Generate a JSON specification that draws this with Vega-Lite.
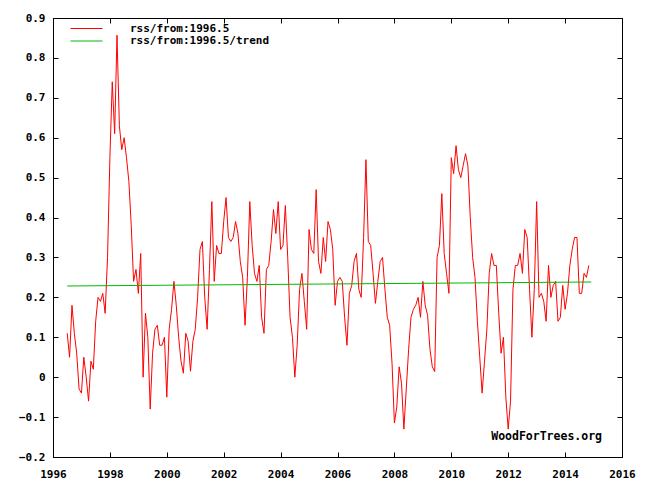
{
  "$schema": "https://vega.github.io/schema/vega-lite/v6.json",
  "width": 569,
  "height": 439,
  "autosize": {"type": "none"},
  "padding": {"left": 53, "top": 18, "right": 27, "bottom": 33},
  "background": "white",
  "datasets": {
    "rss": [
      {"t": 1996.5, "v": 0.11}, {"t": 1996.583, "v": 0.05}, {"t": 1996.667, "v": 0.18}, {"t": 1996.75, "v": 0.11}, {"t": 1996.833, "v": 0.06}, {"t": 1996.917, "v": -0.03},
      {"t": 1997.0, "v": -0.04}, {"t": 1997.083, "v": 0.05}, {"t": 1997.167, "v": 0.0}, {"t": 1997.25, "v": -0.06}, {"t": 1997.333, "v": 0.04}, {"t": 1997.417, "v": 0.02},
      {"t": 1997.5, "v": 0.14}, {"t": 1997.583, "v": 0.2}, {"t": 1997.667, "v": 0.19}, {"t": 1997.75, "v": 0.21}, {"t": 1997.833, "v": 0.16}, {"t": 1997.917, "v": 0.3},
      {"t": 1998.0, "v": 0.55}, {"t": 1998.083, "v": 0.74}, {"t": 1998.167, "v": 0.61}, {"t": 1998.25, "v": 0.857}, {"t": 1998.333, "v": 0.63}, {"t": 1998.417, "v": 0.57},
      {"t": 1998.5, "v": 0.6}, {"t": 1998.583, "v": 0.55}, {"t": 1998.667, "v": 0.49}, {"t": 1998.75, "v": 0.38}, {"t": 1998.833, "v": 0.24}, {"t": 1998.917, "v": 0.27},
      {"t": 1999.0, "v": 0.21}, {"t": 1999.083, "v": 0.31}, {"t": 1999.167, "v": 0.0}, {"t": 1999.25, "v": 0.16}, {"t": 1999.333, "v": 0.1}, {"t": 1999.417, "v": -0.08},
      {"t": 1999.5, "v": 0.06}, {"t": 1999.583, "v": 0.12}, {"t": 1999.667, "v": 0.13}, {"t": 1999.75, "v": 0.08}, {"t": 1999.833, "v": 0.08}, {"t": 1999.917, "v": 0.1},
      {"t": 2000.0, "v": -0.05}, {"t": 2000.083, "v": 0.12}, {"t": 2000.167, "v": 0.17}, {"t": 2000.25, "v": 0.24}, {"t": 2000.333, "v": 0.18}, {"t": 2000.417, "v": 0.1},
      {"t": 2000.5, "v": 0.04}, {"t": 2000.583, "v": 0.01}, {"t": 2000.667, "v": 0.11}, {"t": 2000.75, "v": 0.09}, {"t": 2000.833, "v": 0.015}, {"t": 2000.917, "v": 0.09},
      {"t": 2001.0, "v": 0.12}, {"t": 2001.083, "v": 0.2}, {"t": 2001.167, "v": 0.32}, {"t": 2001.25, "v": 0.34}, {"t": 2001.333, "v": 0.2}, {"t": 2001.417, "v": 0.12},
      {"t": 2001.5, "v": 0.27}, {"t": 2001.583, "v": 0.44}, {"t": 2001.667, "v": 0.24}, {"t": 2001.75, "v": 0.33}, {"t": 2001.833, "v": 0.31}, {"t": 2001.917, "v": 0.31},
      {"t": 2002.0, "v": 0.39}, {"t": 2002.083, "v": 0.45}, {"t": 2002.167, "v": 0.35}, {"t": 2002.25, "v": 0.34}, {"t": 2002.333, "v": 0.35}, {"t": 2002.417, "v": 0.39},
      {"t": 2002.5, "v": 0.36}, {"t": 2002.583, "v": 0.29}, {"t": 2002.667, "v": 0.25}, {"t": 2002.75, "v": 0.13}, {"t": 2002.833, "v": 0.25}, {"t": 2002.917, "v": 0.44},
      {"t": 2003.0, "v": 0.33}, {"t": 2003.083, "v": 0.26}, {"t": 2003.167, "v": 0.24}, {"t": 2003.25, "v": 0.28}, {"t": 2003.333, "v": 0.15}, {"t": 2003.417, "v": 0.11},
      {"t": 2003.5, "v": 0.27}, {"t": 2003.583, "v": 0.28}, {"t": 2003.667, "v": 0.34}, {"t": 2003.75, "v": 0.42}, {"t": 2003.833, "v": 0.36}, {"t": 2003.917, "v": 0.44},
      {"t": 2004.0, "v": 0.32}, {"t": 2004.083, "v": 0.33}, {"t": 2004.167, "v": 0.43}, {"t": 2004.25, "v": 0.3}, {"t": 2004.333, "v": 0.15}, {"t": 2004.417, "v": 0.1},
      {"t": 2004.5, "v": 0.0}, {"t": 2004.583, "v": 0.08}, {"t": 2004.667, "v": 0.22}, {"t": 2004.75, "v": 0.26}, {"t": 2004.833, "v": 0.19}, {"t": 2004.917, "v": 0.12},
      {"t": 2005.0, "v": 0.37}, {"t": 2005.083, "v": 0.32}, {"t": 2005.167, "v": 0.31}, {"t": 2005.25, "v": 0.47}, {"t": 2005.333, "v": 0.29}, {"t": 2005.417, "v": 0.26},
      {"t": 2005.5, "v": 0.35}, {"t": 2005.583, "v": 0.29}, {"t": 2005.667, "v": 0.39}, {"t": 2005.75, "v": 0.37}, {"t": 2005.833, "v": 0.32}, {"t": 2005.917, "v": 0.18},
      {"t": 2006.0, "v": 0.24}, {"t": 2006.083, "v": 0.25}, {"t": 2006.167, "v": 0.24}, {"t": 2006.25, "v": 0.15}, {"t": 2006.333, "v": 0.08}, {"t": 2006.417, "v": 0.21},
      {"t": 2006.5, "v": 0.23}, {"t": 2006.583, "v": 0.29}, {"t": 2006.667, "v": 0.31}, {"t": 2006.75, "v": 0.22}, {"t": 2006.833, "v": 0.2}, {"t": 2006.917, "v": 0.35},
      {"t": 2007.0, "v": 0.545}, {"t": 2007.083, "v": 0.34}, {"t": 2007.167, "v": 0.33}, {"t": 2007.25, "v": 0.26}, {"t": 2007.333, "v": 0.185}, {"t": 2007.417, "v": 0.24},
      {"t": 2007.5, "v": 0.29}, {"t": 2007.583, "v": 0.3}, {"t": 2007.667, "v": 0.22}, {"t": 2007.75, "v": 0.15}, {"t": 2007.833, "v": 0.13}, {"t": 2007.917, "v": 0.035},
      {"t": 2008.0, "v": -0.115}, {"t": 2008.083, "v": -0.075}, {"t": 2008.167, "v": 0.026}, {"t": 2008.25, "v": -0.015}, {"t": 2008.333, "v": -0.13}, {"t": 2008.417, "v": -0.03},
      {"t": 2008.5, "v": 0.07}, {"t": 2008.583, "v": 0.15}, {"t": 2008.667, "v": 0.17}, {"t": 2008.75, "v": 0.18}, {"t": 2008.833, "v": 0.2}, {"t": 2008.917, "v": 0.15},
      {"t": 2009.0, "v": 0.24}, {"t": 2009.083, "v": 0.18}, {"t": 2009.167, "v": 0.155}, {"t": 2009.25, "v": 0.07}, {"t": 2009.333, "v": 0.026}, {"t": 2009.417, "v": 0.014},
      {"t": 2009.5, "v": 0.3}, {"t": 2009.583, "v": 0.33}, {"t": 2009.667, "v": 0.46}, {"t": 2009.75, "v": 0.31}, {"t": 2009.833, "v": 0.26}, {"t": 2009.917, "v": 0.21},
      {"t": 2010.0, "v": 0.55}, {"t": 2010.083, "v": 0.51}, {"t": 2010.167, "v": 0.58}, {"t": 2010.25, "v": 0.52}, {"t": 2010.333, "v": 0.5}, {"t": 2010.417, "v": 0.53},
      {"t": 2010.5, "v": 0.56}, {"t": 2010.583, "v": 0.53}, {"t": 2010.667, "v": 0.4}, {"t": 2010.75, "v": 0.3}, {"t": 2010.833, "v": 0.25}, {"t": 2010.917, "v": 0.14},
      {"t": 2011.0, "v": 0.05}, {"t": 2011.083, "v": -0.04}, {"t": 2011.167, "v": 0.04}, {"t": 2011.25, "v": 0.12}, {"t": 2011.333, "v": 0.26}, {"t": 2011.417, "v": 0.31},
      {"t": 2011.5, "v": 0.28}, {"t": 2011.583, "v": 0.28}, {"t": 2011.667, "v": 0.16}, {"t": 2011.75, "v": 0.06}, {"t": 2011.833, "v": 0.1}, {"t": 2011.917, "v": -0.05},
      {"t": 2012.0, "v": -0.13}, {"t": 2012.083, "v": -0.06}, {"t": 2012.167, "v": 0.22}, {"t": 2012.25, "v": 0.28}, {"t": 2012.333, "v": 0.28}, {"t": 2012.417, "v": 0.31},
      {"t": 2012.5, "v": 0.26}, {"t": 2012.583, "v": 0.37}, {"t": 2012.667, "v": 0.35}, {"t": 2012.75, "v": 0.22}, {"t": 2012.833, "v": 0.1}, {"t": 2012.917, "v": 0.22},
      {"t": 2013.0, "v": 0.44}, {"t": 2013.083, "v": 0.2}, {"t": 2013.167, "v": 0.21}, {"t": 2013.25, "v": 0.19}, {"t": 2013.333, "v": 0.14}, {"t": 2013.417, "v": 0.28},
      {"t": 2013.5, "v": 0.2}, {"t": 2013.583, "v": 0.23}, {"t": 2013.667, "v": 0.24}, {"t": 2013.75, "v": 0.14}, {"t": 2013.833, "v": 0.15}, {"t": 2013.917, "v": 0.23},
      {"t": 2014.0, "v": 0.17}, {"t": 2014.083, "v": 0.21}, {"t": 2014.167, "v": 0.28}, {"t": 2014.25, "v": 0.32}, {"t": 2014.333, "v": 0.35}, {"t": 2014.417, "v": 0.35},
      {"t": 2014.5, "v": 0.21}, {"t": 2014.583, "v": 0.21}, {"t": 2014.667, "v": 0.26}, {"t": 2014.75, "v": 0.25}, {"t": 2014.833, "v": 0.28}
    ],
    "trend": [
      {"t": 1996.5, "v": 0.2285},
      {"t": 2014.917, "v": 0.2385}
    ],
    "mark": [
      {"t": 2013.35, "v": -0.15, "label": "WoodForTrees.org"}
    ]
  },
  "layer": [
    {
      "data": {"name": "rss"},
      "mark": {"type": "line", "strokeWidth": 1, "clip": true},
      "encoding": {
        "x": {"field": "t", "type": "quantitative", "scale": {"domain": [1996, 2016], "nice": false, "zero": false},
              "axis": {"orient": "bottom", "values": [1996, 1998, 2000, 2002, 2004, 2006, 2008, 2010, 2012, 2014, 2016], "format": "d", "title": null, "labelPadding": 16}},
        "y": {"field": "v", "type": "quantitative", "scale": {"domain": [-0.2, 0.9], "nice": false, "zero": false},
              "axis": {"orient": "left", "values": [-0.2, -0.1, 0, 0.1, 0.2, 0.3, 0.4, 0.5, 0.6, 0.7, 0.8, 0.9], "title": null,
                       "labelExpr": "datum.value == 0 ? '0' : format(datum.value, '.1f')"}},
        "color": {"datum": "rss/from:1996.5", "type": "nominal",
                  "scale": {"domain": ["rss/from:1996.5", "rss/from:1996.5/trend"], "range": ["#ff0000", "#00b800"]},
                  "legend": {"title": null, "orient": "none", "legendX": 28, "legendY": 5, "padding": 0,
                             "symbolType": "M-16,0H16", "symbolSize": 4, "symbolStrokeWidth": 1, "labelOffset": 38, "rowPadding": 0.5,
                             "labelFont": "DejaVu Sans Mono", "labelFontSize": 11, "labelFontWeight": "bold", "labelColor": "#000"}}
      }
    },
    {
      "data": {"name": "trend"},
      "mark": {"type": "line", "strokeWidth": 1},
      "encoding": {
        "x": {"field": "t", "type": "quantitative",
              "axis": {"orient": "top", "values": [1996, 1998, 2000, 2002, 2004, 2006, 2008, 2010, 2012, 2014, 2016], "labels": false, "title": null}},
        "y": {"field": "v", "type": "quantitative",
              "axis": {"orient": "right", "values": [-0.2, -0.1, 0, 0.1, 0.2, 0.3, 0.4, 0.5, 0.6, 0.7, 0.8, 0.9], "labels": false, "title": null}},
        "color": {"datum": "rss/from:1996.5/trend", "type": "nominal"}
      }
    },
    {
      "data": {"name": "mark"},
      "mark": {"type": "text", "font": "DejaVu Sans Mono", "fontSize": 11.5, "fontWeight": "bold", "color": "#000", "align": "center", "baseline": "middle"},
      "encoding": {
        "x": {"field": "t", "type": "quantitative", "axis": null},
        "y": {"field": "v", "type": "quantitative", "axis": null},
        "text": {"field": "label"}
      }
    }
  ],
  "resolve": {"axis": {"x": "independent", "y": "independent"}},
  "config": {
    "view": {"stroke": "#000", "strokeWidth": 1},
    "axis": {
      "grid": false,
      "domainColor": "#000",
      "tickColor": "#000",
      "tickSize": -5,
      "labelPadding": 13,
      "labelFont": "DejaVu Sans Mono",
      "labelFontSize": 11,
      "labelFontWeight": "bold",
      "labelColor": "#000",
      "labelFlush": false,
      "labelOverlap": false
    }
  }
}
